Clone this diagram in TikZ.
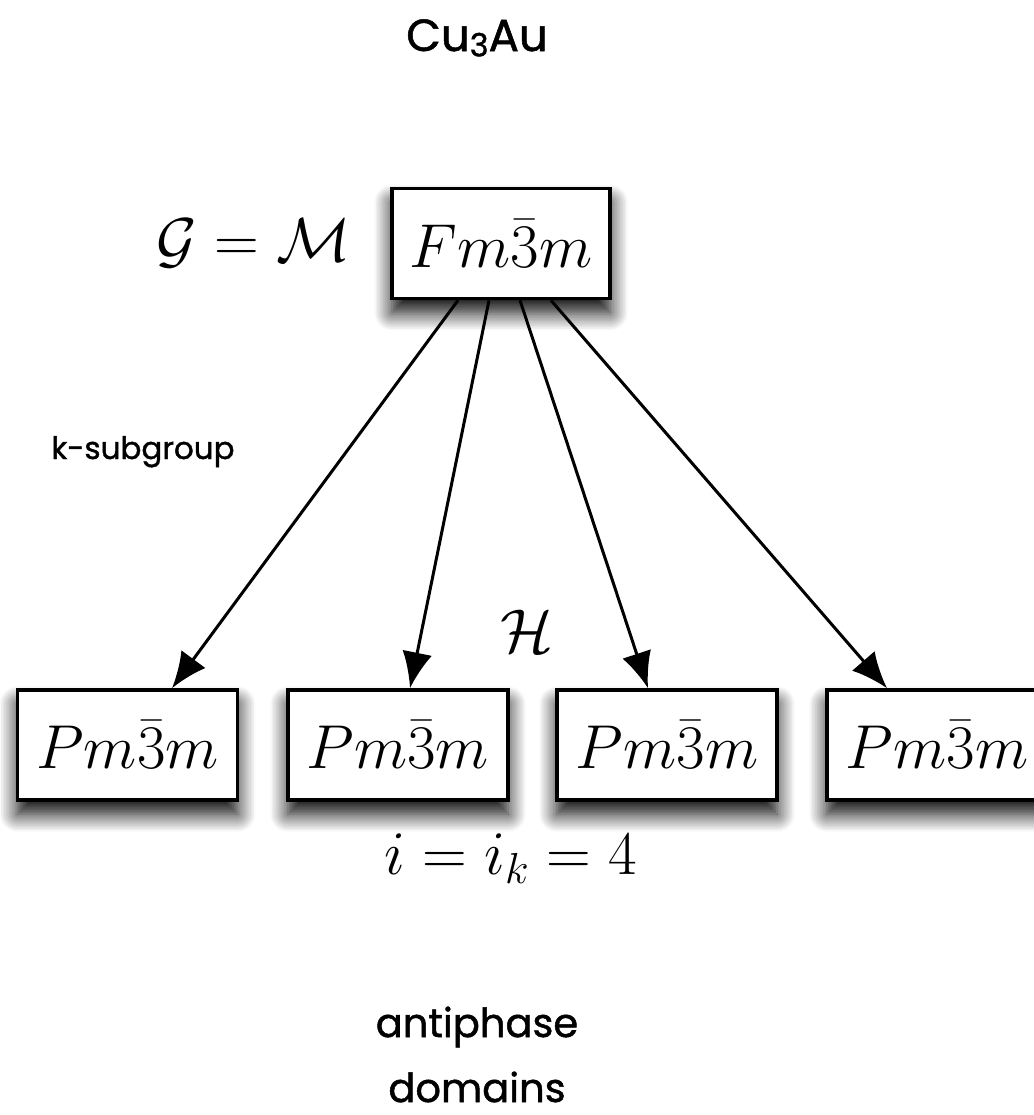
\RequirePackage{fix-cm}
\documentclass[tikz,border=0pt]{standalone}
\usepackage{fontspec}
\newfontfamily\labelfont{Poppins}[FakeBold=1.2]
\usetikzlibrary{arrows.meta,shadows.blur,calc}
\begin{document}
\begin{tikzpicture}[x=0.5pt,y=-0.5pt,
  groupbox/.style={draw,line width=1.8pt,fill=white,minimum width=110pt,minimum height=55pt,inner sep=0pt,
    blur shadow={shadow xshift=0pt,shadow yshift=-7pt,shadow blur radius=9pt,shadow blur steps=12,shadow opacity=100}},
  mathlabel/.style={inner sep=0pt,font=\fontsize{31}{37}\selectfont},
  textlabel/.style={inner sep=0pt,font=\labelfont},
  subarrow/.style={line width=1.5pt,-{Latex[length=18pt,width=15pt]}}]
\useasboundingbox (0,0) rectangle (1034,1115);
\node[textlabel,font=\labelfont\fontsize{22.5}{27}\selectfont,anchor=base] (title) at (477,51) {Cu\raisebox{-0.12em}{\fontsize{16}{20}\selectfont 3}Au};
\node[groupbox,mathlabel,minimum width=109pt] (top) at (501,243.5) {$Fm\bar{3}m$};
\node[mathlabel] (GM) at (254,243) {$\mathcal{G}=\mathcal{M}$};
\node[textlabel,font=\labelfont\fontsize{15.5}{20}\selectfont,anchor=base] (ksub) at (143,459) {k-subgroup};
\node[groupbox,mathlabel] (b1) at (127.5,745) {$Pm\bar{3}m$};
\node[groupbox,mathlabel] (b2) at (398,745) {$Pm\bar{3}m$};
\node[groupbox,mathlabel] (b3) at (667,745) {$Pm\bar{3}m$};
\node[groupbox,mathlabel] (b4) at (937,745) {$Pm\bar{3}m$};
\node[mathlabel] (H) at (527,631) {$\mathcal{H}$};
\node[mathlabel] (idx) at (511,859) {$i=i_k=4$};
\node[textlabel,font=\labelfont\fontsize{20}{32.5}\selectfont,align=center,anchor=base] (anti) at (477,1102) {antiphase\\domains};
\draw[subarrow] ($(top.south)+(-43,0)$) -- ($(b1.north)+(44.5,0)$);
\draw[subarrow] ($(top.south)+(-12,0)$) -- ($(b2.north)+(12,0)$);
\draw[subarrow] ($(top.south)+(19,0)$) -- ($(b3.north)+(-19,0)$);
\draw[subarrow] ($(top.south)+(50,0)$) -- ($(b4.north)+(-50,0)$);
\end{tikzpicture}
\end{document}
